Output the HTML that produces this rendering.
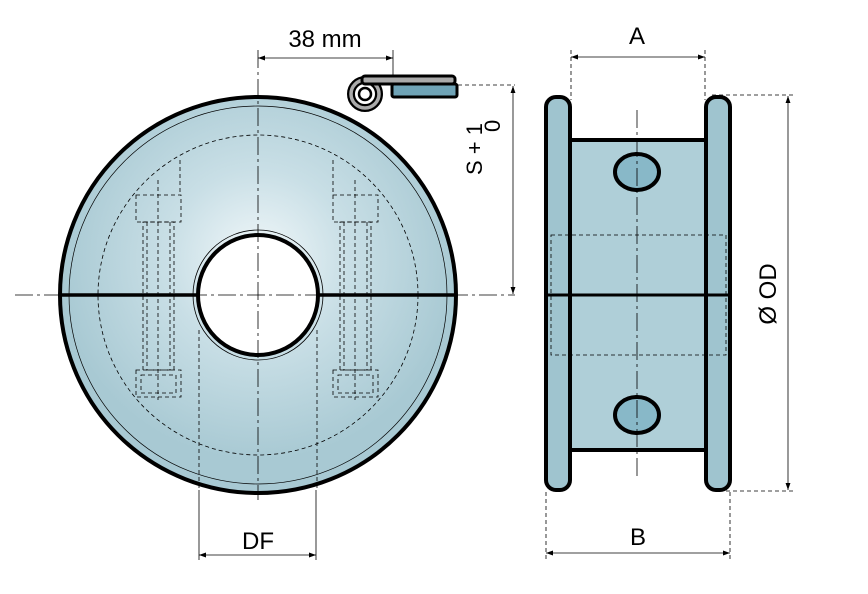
<!DOCTYPE html>
<html><head><meta charset="utf-8"><style>html,body{margin:0;padding:0;background:#fff}svg{display:block}</style></head>
<body>
<svg width="868" height="594" viewBox="0 0 868 594" xmlns="http://www.w3.org/2000/svg" font-family="Liberation Sans, sans-serif">
<defs>
<radialGradient id="g" cx="258" cy="260" r="200" gradientUnits="userSpaceOnUse">
<stop offset="0" stop-color="#f2f8fa"/><stop offset="0.45" stop-color="#c9dfe6"/><stop offset="1" stop-color="#a8c9d3"/></radialGradient>
<marker id="a" viewBox="0 0 10 10" refX="10" refY="5" markerWidth="9" markerHeight="9" orient="auto-start-reverse"><path d="M0,1.5 L10,5 L0,8.5 z" fill="#000"/></marker>
</defs>
<!-- front view -->
<circle cx="258" cy="295" r="198" fill="url(#g)" stroke="#000" stroke-width="4"/>
<circle cx="258" cy="295" r="189" fill="none" stroke="#000" stroke-width="0.7"/>
<circle cx="258" cy="295" r="160" fill="none" stroke="#000" stroke-width="0.8" stroke-dasharray="4,3"/>
<g fill="none" stroke="#000" stroke-width="0.8" stroke-dasharray="4,3">
<line x1="199" y1="330" x2="199" y2="490"/><line x1="317" y1="330" x2="317" y2="490"/>
<rect x="136" y="195" width="45" height="27"/><rect x="143" y="222" width="31" height="148"/><line x1="147" y1="222" x2="147" y2="370"/><line x1="170" y1="222" x2="170" y2="370"/><line x1="158" y1="180" x2="158" y2="400"/>
<rect x="136" y="370" width="45" height="27"/><rect x="141" y="375" width="35" height="18"/>
<rect x="333" y="195" width="45" height="27"/><rect x="340" y="222" width="31" height="148"/><line x1="344" y1="222" x2="344" y2="370"/><line x1="367" y1="222" x2="367" y2="370"/><line x1="355" y1="180" x2="355" y2="400"/>
<rect x="333" y="370" width="45" height="27"/><rect x="338" y="375" width="35" height="18"/>
<line x1="180" y1="160" x2="180" y2="195"/><line x1="333" y1="160" x2="333" y2="195"/>
</g>
<circle cx="258" cy="295" r="65" fill="none" stroke="#000" stroke-width="0.8"/>
<circle cx="258" cy="295" r="60" fill="#fff" stroke="#000" stroke-width="4"/>
<line x1="60" y1="295" x2="198" y2="295" stroke="#000" stroke-width="3.5"/>
<line x1="318" y1="295" x2="456" y2="295" stroke="#000" stroke-width="3.5"/>
<g stroke="#000" stroke-width="0.8" stroke-dasharray="18,4,3,4">
<line x1="15" y1="295" x2="515" y2="295"/><line x1="258" y1="50" x2="258" y2="500"/></g>
<!-- clip -->
<circle cx="365" cy="94" r="14" fill="none" stroke="#000" stroke-width="8"/>
<circle cx="365" cy="94" r="14" fill="none" stroke="#aaa" stroke-width="3.5"/>
<rect x="392" y="84" width="65" height="13" rx="2" fill="#6fa3b6" stroke="#000" stroke-width="3"/>
<rect x="362" y="76" width="93" height="8" rx="3" fill="#aaa" stroke="#000" stroke-width="3"/>
<circle cx="365" cy="94" r="6" fill="none" stroke="#000" stroke-width="2.5"/>
<line x1="458" y1="85" x2="515" y2="85" stroke="#000" stroke-width="0.8" stroke-dasharray="4,3"/>
<!-- dims front -->
<g stroke="#000" stroke-width="0.8" fill="none">
<line x1="258" y1="58" x2="393" y2="58" marker-start="url(#a)" marker-end="url(#a)"/>
<line x1="393" y1="50" x2="393" y2="76"/>
<line x1="513" y1="86" x2="513" y2="294" marker-start="url(#a)" marker-end="url(#a)"/>
<line x1="199" y1="490" x2="199" y2="560"/><line x1="316" y1="490" x2="316" y2="560"/>
<line x1="199" y1="555" x2="316" y2="555" marker-start="url(#a)" marker-end="url(#a)"/>
</g>
<text x="325" y="47" font-size="24" text-anchor="middle">38 mm</text>
<text x="258" y="549" font-size="24" text-anchor="middle">DF</text>
<text transform="translate(482,175) rotate(-90)" font-size="22">S + 1</text>
<text transform="translate(500,132) rotate(-90)" font-size="22">0</text>
<!-- side view -->
<rect x="570" y="140" width="136" height="310" fill="#afcfd8" stroke="#000" stroke-width="4"/>
<rect x="546" y="97" width="24" height="393" rx="10" fill="#9fc4cf" stroke="#000" stroke-width="4"/>
<rect x="706" y="97" width="24" height="393" rx="10" fill="#9fc4cf" stroke="#000" stroke-width="4"/>
<rect x="551" y="235" width="175" height="120" fill="none" stroke="#000" stroke-width="0.8" stroke-dasharray="4,3"/>
<ellipse cx="637" cy="172" rx="22" ry="18" fill="#88b8c8" stroke="#000" stroke-width="4"/>
<ellipse cx="637" cy="415" rx="22" ry="18" fill="#88b8c8" stroke="#000" stroke-width="4"/>
<line x1="546" y1="295" x2="730" y2="295" stroke="#000" stroke-width="3"/>
<line x1="637" y1="110" x2="637" y2="480" stroke="#000" stroke-width="0.8" stroke-dasharray="18,4,3,4"/>
<g stroke="#000" stroke-width="0.8" fill="none">
<line x1="571" y1="50" x2="571" y2="100" stroke-dasharray="4,3"/><line x1="705" y1="50" x2="705" y2="100" stroke-dasharray="4,3"/>
<line x1="571" y1="57" x2="705" y2="57" marker-start="url(#a)" marker-end="url(#a)"/>
<line x1="712" y1="95" x2="795" y2="95" stroke-dasharray="4,3"/><line x1="712" y1="491" x2="795" y2="491" stroke-dasharray="4,3"/>
<line x1="788" y1="96" x2="788" y2="490" marker-start="url(#a)" marker-end="url(#a)"/>
<line x1="546" y1="492" x2="546" y2="560" stroke-dasharray="4,3"/><line x1="730" y1="492" x2="730" y2="560" stroke-dasharray="4,3"/>
<line x1="546" y1="553" x2="730" y2="553" marker-start="url(#a)" marker-end="url(#a)"/>
</g>
<text x="637" y="44" font-size="24" text-anchor="middle">A</text>
<text x="638" y="545" font-size="24" text-anchor="middle">B</text>
<text transform="translate(776,294) rotate(-90)" font-size="24" text-anchor="middle">Ø OD</text>
</svg>
</body></html>
